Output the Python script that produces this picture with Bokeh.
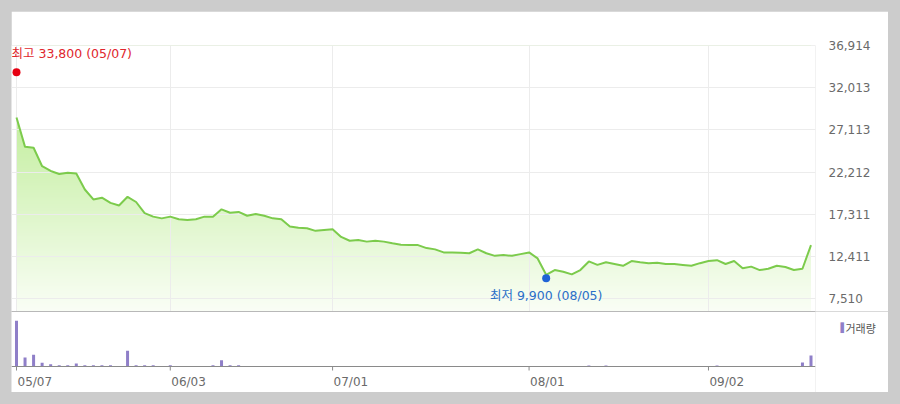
import numpy as np
from bokeh.plotting import figure
from bokeh.layouts import column
from bokeh.models import (FixedTicker, NumeralTickFormatter, Grid, Span, Range1d, Label)
from bokeh.core.properties import value
from bokeh.embed import file_html
from bokeh.resources import INLINE

# ---------------- data ----------------
dates = [
    "05/07", "05/08", "05/09", "05/10", "05/13", "05/14", "05/16", "05/17", "05/20", "05/21",
    "05/22", "05/23", "05/24", "05/27", "05/28", "05/29", "05/30", "05/31",
    "06/03", "06/04", "06/05", "06/07", "06/10", "06/11", "06/12", "06/13", "06/14", "06/17",
    "06/18", "06/19", "06/20", "06/21", "06/24", "06/25", "06/26", "06/27", "06/28",
    "07/01", "07/02", "07/03", "07/04", "07/05", "07/08", "07/09", "07/10", "07/11", "07/12",
    "07/15", "07/16", "07/17", "07/18", "07/19", "07/22", "07/23", "07/24", "07/25", "07/26",
    "07/29", "07/30", "07/31",
    "08/01", "08/02", "08/05", "08/06", "08/07", "08/08", "08/09", "08/12", "08/13", "08/14",
    "08/16", "08/19", "08/20", "08/21", "08/22", "08/23", "08/26", "08/27", "08/28", "08/29",
    "08/30",
    "09/02", "09/03", "09/04", "09/05", "09/06", "09/09", "09/10", "09/11", "09/12", "09/13",
    "09/19", "09/20", "09/23",
]
close = [
    28550, 25150, 25050, 22900, 22350, 22000, 22150, 22050, 20200, 19050,
    19250, 18650, 18350, 19350, 18750, 17450, 17050, 16850, 17050, 16750,
    16650, 16750, 17050, 17050, 17900, 17500, 17600, 17150, 17350, 17150,
    16850, 16750, 15900, 15750, 15700, 15400, 15500, 15600, 14700, 14250,
    14350, 14150, 14250, 14150, 13950, 13800, 13750, 13750, 13400, 13250,
    12900, 12900, 12850, 12800, 13250, 12800, 12500, 12600, 12500, 12700,
    12900, 12200, 10300, 10850, 10650, 10350, 10850, 11850, 11450, 11750,
    11550, 11350, 11900, 11750, 11650, 11700, 11550, 11550, 11450, 11350,
    11650, 11900, 12000, 11550, 11900, 11050, 11250, 10850, 11000, 11350,
    11200, 10850, 11000, 13750,
]
volume = [
    4570, 900, 1170, 370, 230, 130, 130, 300, 130, 130,
    130, 130, 0, 1570, 130, 130, 130, 0, 130, 0,
    0, 0, 0, 130, 630, 130, 130, 0, 0, 0,
    0, 0, 0, 0, 0, 0, 0, 0, 0, 0,
    0, 0, 0, 0, 0, 0, 0, 0, 0, 0,
    0, 0, 0, 0, 0, 0, 0, 0, 0, 0,
    0, 0, 0, 0, 0, 0, 0, 100, 0, 100,
    0, 0, 0, 0, 0, 0, 0, 0, 0, 0,
    0, 0, 100, 0, 0, 0, 0, 0, 0, 0,
    0, 0, 400, 1100,
]
tick_labels = ["05/07", "06/03", "07/01", "08/01", "09/02"]
y_ticks = [7510, 12411, 17311, 22212, 27113, 32013, 36914]
high_value, high_date = 33800, "05/07"
low_value, low_date = 9900, "08/05"
volume_label = "거래량"

# ---------------- derived ----------------
idx = np.arange(len(dates))
tick_idx = [dates.index(d) for d in tick_labels]
hi_i = dates.index(high_date)
lo_i = dates.index(low_date)

PX = 8.543          # pixels per trading day
X0 = -0.585
Y0, Y1 = 6040, 36914.5
VPX = 100.0         # volume units per pixel
FONT = "DejaVu Sans, Noto Sans CJK KR"
GRID = "#ececec"
AXC = "#8a8a8a"
LBL = "#6a6a6a"
VOLC = "#8f7fc8"

xr = Range1d(X0, X0 + 804 / PX)

# ---------------- price panel ----------------
p1 = figure(width=877, height=300, output_backend="svg", toolbar_location=None,
            x_range=xr, y_range=Range1d(Y0, Y1),
            x_axis_location=None, y_axis_location="right",
            min_border_top=34, min_border_bottom=0, min_border_left=0, min_border_right=73)
p1.outline_line_color = None
p1.background_fill_color = "white"
p1.xgrid.grid_line_color = None
p1.ygrid.ticker = FixedTicker(ticks=y_ticks)
p1.ygrid.grid_line_color = GRID
p1.add_layout(Grid(dimension=0, ticker=FixedTicker(ticks=tick_idx), grid_line_color=GRID))

ya = p1.yaxis[0]
ya.ticker = FixedTicker(ticks=y_ticks)
ya.formatter = NumeralTickFormatter(format="0,0")
ya.axis_line_color = None
ya.major_tick_line_color = None
ya.minor_tick_line_color = None
ya.major_label_standoff = 7
ya.major_label_text_font = "DejaVu Sans"
ya.major_label_text_font_size = "12px"
ya.major_label_text_color = LBL

# vertical gradient fill (image under the series, masked above the line)
rows = 266
top_c = np.array([176, 233, 128], dtype=float)
bot_c = np.array([250, 254, 246], dtype=float)
img = np.empty((rows, 2), dtype=np.uint32)
view = img.view(dtype=np.uint8).reshape((rows, 2, 4))
for r in range(rows):
    t = r / (rows - 1)            # 0 bottom -> 1 top
    c = bot_c + (top_c - bot_c) * t
    view[r, :, 0] = int(c[0]); view[r, :, 1] = int(c[1]); view[r, :, 2] = int(c[2]); view[r, :, 3] = 255
p1.image_rgba(image=[img], x=idx[0], y=Y0, dw=idx[-1] - idx[0], dh=Y1 - Y0, level="image")
p1.varea(x=idx, y1=close, y2=Y1, fill_color="white", level="image")

p1.line(idx, close, line_color="#7ccb4c", line_width=2)

p1.scatter(x=[hi_i], y=[high_value], size=8, fill_color="#e60012", line_color=None)
p1.scatter(x=[lo_i], y=[low_value], size=8, fill_color="#1f63d6", line_color=None)
p1.text(x=[hi_i], y=[high_value], text=[f"최고 {high_value:,} ({high_date})"],
        text_color="#e0262d", text_font=value(FONT), text_font_size="12.5px",
        text_align="left", text_baseline="middle", x_offset=-5, y_offset=-19)
p1.text(x=[lo_i], y=[low_value], text=[f"최저 {low_value:,} ({low_date})"],
        text_color="#2b6fc8", text_font=value(FONT), text_font_size="12.5px",
        text_align="center", text_baseline="middle", x_offset=0, y_offset=17)

# ---------------- volume panel (frame holds bars, baseline, ticks and date labels) ----------------
p2 = figure(width=877, height=81, output_backend="svg", toolbar_location=None,
            x_range=xr, y_range=Range1d(-26 * VPX, 55 * VPX),
            x_axis_location=None, y_axis_location=None,
            min_border_top=0, min_border_bottom=0, min_border_left=0, min_border_right=73)
p2.outline_line_color = None
p2.grid.grid_line_color = None

p2.add_layout(Span(location=55 * VPX, dimension="width", line_color=AXC, line_width=1))
p2.add_layout(Span(location=0, dimension="width", line_color=AXC, line_width=1))
p2.vbar(x=idx, top=volume, width=3 / PX, fill_color=VOLC, line_color=None)

# date ticks and labels on the shared day scale
p2.segment(x0=tick_idx, y0=[0] * len(tick_idx), x1=tick_idx, y1=[-4 * VPX] * len(tick_idx),
           line_color=AXC, line_width=1)
p2.text(x=tick_idx, y=[0] * len(tick_idx), text=tick_labels, text_color=LBL,
        text_font=value("DejaVu Sans"), text_font_size="12px",
        text_align="left", text_baseline="middle", x_offset=1, y_offset=15)

# volume legend (marker + label) in the right margin panel
p2.add_layout(Label(x=25, y=65, x_units="screen", y_units="screen", text="▌",
                    text_color=VOLC, text_font="DejaVu Sans", text_font_size="9px",
                    text_align="left", text_baseline="middle"), "right")
p2.add_layout(Label(x=23, y=65, x_units="screen", y_units="screen", text=volume_label,
                    text_color="#555555", text_font="Noto Sans CJK KR", text_font_size="11px",
                    text_align="left", text_baseline="middle"), "right")

layout = column(p1, p2, spacing=0)
html = file_html(layout, INLINE, title="chart")
css = ("<style>html, body { background-color: #cccccc !important; margin: 0 !important; }"
       " body { padding: 11px 0 0 11px !important; box-sizing: border-box; }</style>")
html = html.replace("</head>", css + "</head>", 1)
open("out.html", "w").write(html)
